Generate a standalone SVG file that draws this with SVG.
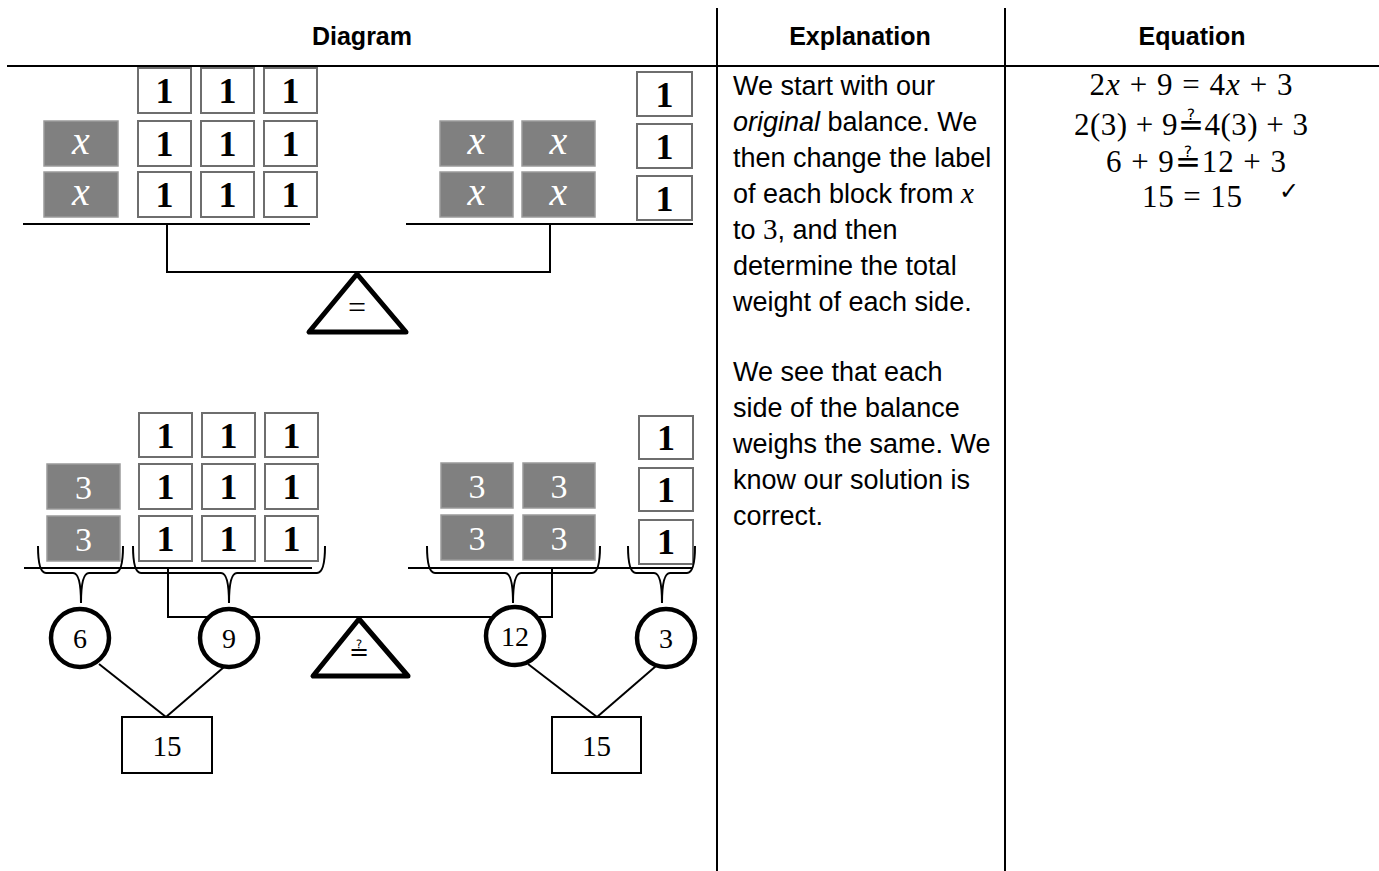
<svg xmlns="http://www.w3.org/2000/svg" width="1379" height="871" viewBox="0 0 1379 871">
<defs>
<style>
.hdr{font-family:"Liberation Sans",Arial,sans-serif;font-weight:bold;font-size:25px;fill:#000;text-anchor:middle}
.exp{font-family:"Liberation Sans",Arial,sans-serif;font-size:27px;fill:#000}
.mth{font-family:"Liberation Serif","DejaVu Serif",serif}
.eq{font-family:"Liberation Serif","DejaVu Serif",serif;font-size:31px;fill:#000;text-anchor:middle}
.unit rect{fill:#fff;stroke:#6e6e6e;stroke-width:2}
.unit text{font-family:"Liberation Serif","DejaVu Serif",serif;font-weight:bold;font-size:36px;fill:#000;text-anchor:middle}
.var rect{fill:#808080;stroke:#9a9a9a;stroke-width:1.5}
.var text{font-family:"Liberation Serif","DejaVu Serif",serif;font-style:italic;font-size:40px;fill:#fff;text-anchor:middle}
.val text{font-family:"Liberation Serif","DejaVu Serif",serif;font-size:34px;fill:#fff;text-anchor:middle}
.val rect{fill:#808080;stroke:#9a9a9a;stroke-width:1.5}
.ln{stroke:#000;stroke-width:2;fill:none}
.tri{stroke:#000;stroke-width:5;fill:#fff;stroke-linejoin:round}
.circ ellipse{fill:#fff;stroke:#000;stroke-width:4.5}
.circ text{font-family:"Liberation Serif","DejaVu Serif",serif;font-size:28px;fill:#000;text-anchor:middle}
.sum rect{fill:#fff;stroke:#000;stroke-width:2}
.sum text{font-family:"Liberation Serif","DejaVu Serif",serif;font-size:29px;fill:#000;text-anchor:middle}
</style>
</defs>
<rect width="1379" height="871" fill="#fff"/>

<g id="table">
<line class="ln" x1="7" y1="66" x2="1379" y2="66"/>
<line class="ln" x1="717" y1="8" x2="717" y2="871"/>
<line class="ln" x1="1005" y1="8" x2="1005" y2="871"/>
<text class="hdr" x="362" y="45">Diagram</text>
<text class="hdr" x="860" y="45">Explanation</text>
<text class="hdr" x="1192" y="45">Equation</text>
</g>

<g id="top-left-units" class="unit">
<rect x="138" y="68" width="53" height="45"/><text x="164.5" y="103">1</text>
<rect x="201" y="68" width="53" height="45"/><text x="227.5" y="103">1</text>
<rect x="264" y="68" width="53" height="45"/><text x="290.5" y="103">1</text>
<rect x="138" y="121" width="53" height="45"/><text x="164.5" y="156">1</text>
<rect x="201" y="121" width="53" height="45"/><text x="227.5" y="156">1</text>
<rect x="264" y="121" width="53" height="45"/><text x="290.5" y="156">1</text>
<rect x="138" y="172" width="53" height="45"/><text x="164.5" y="207">1</text>
<rect x="201" y="172" width="53" height="45"/><text x="227.5" y="207">1</text>
<rect x="264" y="172" width="53" height="45"/><text x="290.5" y="207">1</text>
</g>
<g id="top-left-vars" class="var">
<rect x="44" y="121" width="74" height="45"/><text x="81" y="154">x</text>
<rect x="44" y="172" width="74" height="45"/><text x="81" y="205">x</text>
</g>
<g id="top-right-vars" class="var">
<rect x="440" y="121" width="73" height="45"/><text x="476.5" y="154">x</text>
<rect x="522" y="121" width="73" height="45"/><text x="558.5" y="154">x</text>
<rect x="440" y="172" width="73" height="45"/><text x="476.5" y="205">x</text>
<rect x="522" y="172" width="73" height="45"/><text x="558.5" y="205">x</text>
</g>
<g id="top-right-units" class="unit">
<rect x="637" y="72" width="55" height="44"/><text x="664.5" y="107">1</text>
<rect x="637" y="124" width="55" height="44"/><text x="664.5" y="159">1</text>
<rect x="637" y="176" width="55" height="44"/><text x="664.5" y="211">1</text>
</g>
<g id="top-balance">
<line class="ln" x1="23" y1="224" x2="310" y2="224"/>
<line class="ln" x1="406" y1="224" x2="693" y2="224"/>
<polyline class="ln" points="167,224 167,272 550,272 550,224"/>
<polygon class="tri" points="357,274 309,332 406,332"/>
<text class="mth" x="357" y="318" font-size="32" text-anchor="middle">=</text>
</g>

<g id="bottom-left-units" class="unit">
<rect x="139" y="413" width="53" height="44"/><text x="165.5" y="448">1</text>
<rect x="202" y="413" width="53" height="44"/><text x="228.5" y="448">1</text>
<rect x="265" y="413" width="53" height="44"/><text x="291.5" y="448">1</text>
<rect x="139" y="464" width="53" height="45"/><text x="165.5" y="499">1</text>
<rect x="202" y="464" width="53" height="45"/><text x="228.5" y="499">1</text>
<rect x="265" y="464" width="53" height="45"/><text x="291.5" y="499">1</text>
<rect x="139" y="516" width="53" height="45"/><text x="165.5" y="551">1</text>
<rect x="202" y="516" width="53" height="45"/><text x="228.5" y="551">1</text>
<rect x="265" y="516" width="53" height="45"/><text x="291.5" y="551">1</text>
</g>
<g id="bottom-left-vals" class="val">
<rect x="47" y="464" width="73" height="45"/><text x="83.5" y="499">3</text>
<rect x="47" y="516" width="73" height="45"/><text x="83.5" y="551">3</text>
</g>
<g id="bottom-right-vals" class="val">
<rect x="441" y="463" width="72" height="45"/><text x="477" y="498">3</text>
<rect x="523" y="463" width="72" height="45"/><text x="559" y="498">3</text>
<rect x="441" y="515" width="72" height="45"/><text x="477" y="550">3</text>
<rect x="523" y="515" width="72" height="45"/><text x="559" y="550">3</text>
</g>
<g id="bottom-right-units" class="unit">
<rect x="639" y="416" width="54" height="43"/><text x="666" y="450">1</text>
<rect x="639" y="468" width="54" height="43"/><text x="666" y="502">1</text>
<rect x="639" y="520" width="54" height="44"/><text x="666" y="554">1</text>
</g>

<g id="connectors">
<line class="ln" x1="24" y1="568" x2="312" y2="568"/>
<line class="ln" x1="408" y1="568" x2="693" y2="568"/>
<polyline class="ln" points="168,568 168,617 552,617 552,568"/>
<path class="ln" d="M38,546 Q38,573 46,573 L73,573 Q81,573 81,603 Q81,573 89,573 L115,573 Q123,573 123,546"/>
<path class="ln" d="M133,546 Q133,573 141,573 L221,573 Q229,573 229,603 Q229,573 237,573 L317,573 Q325,573 325,546"/>
<path class="ln" d="M427,546 Q427,573 435,573 L505,573 Q513,573 513,603 Q513,573 521,573 L592,573 Q600,573 600,546"/>
<path class="ln" d="M628,546 Q628,573 636,573 L654,573 Q662,573 662,603 Q662,573 670,573 L687,573 Q695,573 695,546"/>
<line class="ln" x1="99" y1="664" x2="166" y2="717"/>
<line class="ln" x1="224" y1="667" x2="166" y2="717"/>
<line class="ln" x1="528" y1="664" x2="597" y2="717"/>
<line class="ln" x1="656" y1="666" x2="597" y2="717"/>
</g>

<g id="bottom-fulcrum">
<polygon class="tri" points="359,619 313,676 408,676"/>
<text class="mth" x="359" y="660" font-size="24" text-anchor="middle">≟</text>
</g>

<g id="circle-6" class="circ"><ellipse cx="80" cy="638" rx="29" ry="29"/><text x="80" y="648">6</text></g>
<g id="circle-9" class="circ"><ellipse cx="229" cy="638" rx="29" ry="29"/><text x="229" y="648">9</text></g>
<g id="circle-12" class="circ"><ellipse cx="515" cy="636" rx="29" ry="29"/><text x="515" y="646">12</text></g>
<g id="circle-3" class="circ"><ellipse cx="666" cy="638" rx="29" ry="29"/><text x="666" y="648">3</text></g>

<g id="sum-left" class="sum"><rect x="122" y="717" width="90" height="56"/><text x="167" y="756">15</text></g>
<g id="sum-right" class="sum"><rect x="552" y="717" width="89" height="56"/><text x="596.5" y="756">15</text></g>

<g id="explanation" class="exp">
<text x="733" y="95">We start with our</text>
<text x="733" y="131"><tspan font-style="italic">original</tspan> balance. We</text>
<text x="733" y="167">then change the label</text>
<text x="733" y="203">of each block from <tspan class="mth" font-style="italic" font-size="29">x</tspan></text>
<text x="733" y="239">to <tspan class="mth" font-size="29">3</tspan>, and then</text>
<text x="733" y="275">determine the total</text>
<text x="733" y="311">weight of each side.</text>
<text x="733" y="381">We see that each</text>
<text x="733" y="417">side of the balance</text>
<text x="733" y="453">weighs the same. We</text>
<text x="733" y="489">know our solution is</text>
<text x="733" y="525">correct.</text>
</g>

<g id="equations">
<text class="eq" x="1191" y="95" textLength="203" lengthAdjust="spacing">2<tspan font-style="italic">x</tspan> + 9 = 4<tspan font-style="italic">x</tspan> + 3</text>
<text class="eq" x="1191" y="135" textLength="234" lengthAdjust="spacing">2(3) + 9≟4(3) + 3</text>
<text class="eq" x="1196" y="172" textLength="180" lengthAdjust="spacing">6 + 9≟12 + 3</text>
<text class="eq" x="1192" y="207" textLength="100" lengthAdjust="spacing">15 = 15</text>
<text x="1289" y="199" font-family="DejaVu Sans,sans-serif" font-size="24" text-anchor="middle">✓</text>
</g>
</svg>
